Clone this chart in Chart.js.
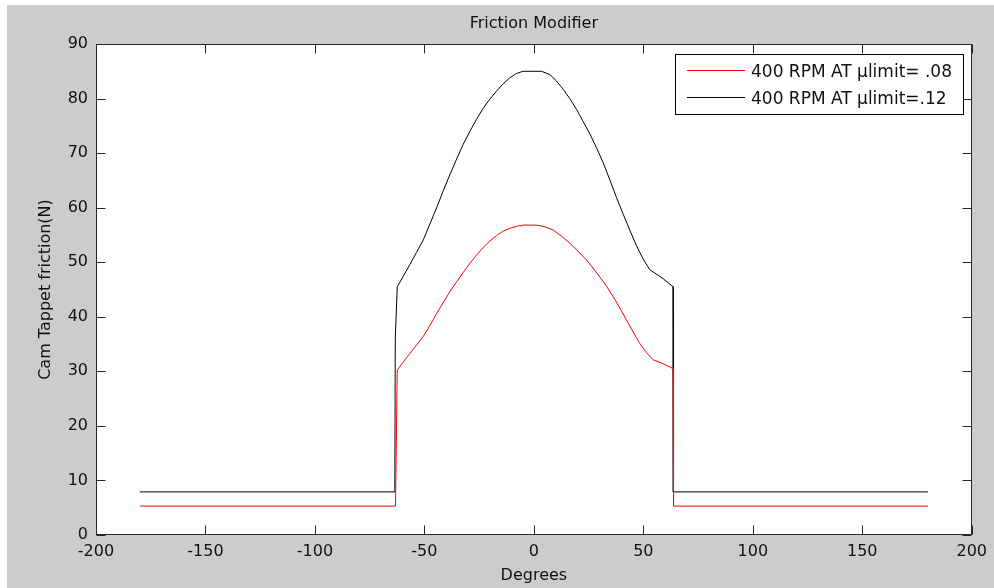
<!DOCTYPE html>
<html>
<head>
<meta charset="utf-8">
<script src="https://cdn.jsdelivr.net/npm/chart.js@4/dist/chart.umd.min.js"></script>
<style>
  html, body { margin: 0; padding: 0; background: #ffffff; }
  #wrap { position: absolute; left: 0; top: 0; width: 994px; height: 588px; }
</style>
</head>
<body>
<div id="wrap"><canvas id="c" width="994" height="588"></canvas></div>
<script>
// ---- data ----
const titleText = 'Friction Modifier';
const xTitle = 'Degrees';
const yTitle = 'Cam Tappet friction(N)';
const seriesNames = ['400 RPM AT \u03bclimit= .08', '400 RPM AT \u03bclimit=.12'];

const degLow = [-180, -63.2, -62.4, -59.7, -56.6, -53.6, -50.5, -47.5, -44.4, -41.4, -38.4, -35.3, -32.3, -29.2, -26.2, -23.2, -20.1, -17.0, -14.0, -11.0, -7.9, -4.9, 1.2, 5.0, 8.8, 12.6, 16.4, 20.2, 24.1, 27.1, 30.1, 33.2, 36.2, 39.3, 42.3, 45.4, 48.4, 51.5, 54.5, 59.0, 63.6, 63.8, 180];
const frictionLow = [5.3, 5.3, 30.2, 31.7, 33.3, 34.8, 36.4, 38.4, 40.6, 42.6, 44.6, 46.4, 48.1, 49.8, 51.3, 52.7, 53.9, 54.9, 55.7, 56.2, 56.6, 56.8, 56.8, 56.5, 55.9, 54.8, 53.5, 52.0, 50.4, 48.9, 47.3, 45.6, 43.7, 41.6, 39.4, 37.2, 35.1, 33.4, 32.1, 31.4, 30.5, 5.3, 5.3];

const degHigh = [-180, -63.5, -63.3, -62.4, -59.7, -56.6, -53.6, -50.5, -47.5, -44.4, -41.4, -38.4, -35.3, -32.3, -29.2, -26.2, -23.2, -20.1, -17.0, -14.0, -11.0, -7.9, -4.9, 3.5, 7.3, 10.4, 13.4, 16.4, 19.5, 22.5, 25.6, 28.6, 31.7, 34.7, 37.7, 40.8, 43.8, 46.9, 49.9, 53.0, 59.0, 63.6, 63.7, 180];
const frictionHigh = [7.9, 7.9, 36.0, 45.5, 47.4, 49.6, 51.8, 54.1, 57.0, 60.0, 63.1, 66.0, 68.9, 71.6, 74.0, 76.2, 78.2, 79.9, 81.4, 82.7, 83.8, 84.6, 85.0, 85.0, 84.4, 83.2, 81.7, 80.0, 78.0, 75.8, 73.5, 71.0, 68.2, 65.1, 61.9, 58.8, 55.9, 53.0, 50.6, 48.6, 47.0, 45.5, 7.9, 7.9];

const xTickValues = [-200, -150, -100, -50, 0, 50, 100, 150, 200];
const yTickValues = [0, 10, 20, 30, 40, 50, 60, 70, 80, 90];
const seriesColors = ['#ff0000', '#000000'];

// ---- build chart ----
const toPoints = (xs, ys) => xs.map((x, i) => ({ x: x, y: ys[i] }));
const FONT = 'DejaVu Sans';
const TXT = '#111111';

const bgPlugin = {
  id: 'bg',
  beforeDraw(chart) {
    const { ctx, chartArea: a } = chart;
    ctx.save();
    ctx.fillStyle = '#ffffff';
    ctx.fillRect(0, 0, chart.width, chart.height);
    ctx.fillStyle = '#cccccc';
    ctx.fillRect(7, 5, chart.width - 7, chart.height - 5);
    ctx.fillStyle = '#ffffff';
    ctx.fillRect(a.left, a.top, a.right - a.left, a.bottom - a.top);
    ctx.restore();
  }
};

const boxPlugin = {
  id: 'box',
  afterDatasetsDraw(chart) {
    const { ctx, chartArea: a, scales } = chart;
    const L = Math.round(a.left) + 0.5, R = Math.round(a.right) - 0.5;
    const T = Math.round(a.top) + 0.5, B = Math.round(a.bottom) - 0.5;
    const tl = 9;
    ctx.save();
    ctx.strokeStyle = '#262626';
    ctx.lineWidth = 1;
    ctx.beginPath();
    xTickValues.forEach(v => {
      const px = Math.round(scales.x.getPixelForValue(v)) + 0.5;
      ctx.moveTo(px, B); ctx.lineTo(px, B - tl);
      ctx.moveTo(px, T); ctx.lineTo(px, T + tl);
    });
    yTickValues.forEach(v => {
      const py = Math.round(scales.y.getPixelForValue(v)) + 0.5;
      ctx.moveTo(L, py); ctx.lineTo(L + tl, py);
      ctx.moveTo(R, py); ctx.lineTo(R - tl, py);
    });
    ctx.stroke();
    ctx.strokeRect(L, T, R - L, B - T);

    // legend box
    const lx = 675.5, ly = 54.5, lw = 288, lh = 60;
    ctx.fillStyle = '#ffffff';
    ctx.fillRect(lx, ly, lw, lh);
    ctx.strokeStyle = '#000000';
    ctx.strokeRect(lx, ly, lw, lh);
    const rows = [70.5, 97.5];
    chart.data.datasets.forEach((ds, i) => {
      ctx.strokeStyle = ds.borderColor;
      ctx.beginPath();
      ctx.moveTo(687, rows[i]); ctx.lineTo(745, rows[i]);
      ctx.stroke();
      ctx.fillStyle = TXT;
      ctx.font = '17px "' + FONT + '"';
      ctx.textAlign = 'left';
      ctx.textBaseline = 'alphabetic';
      ctx.fillText(ds.label, 751, rows[i] + 6.5);
    });
    ctx.restore();
  }
};

new Chart(document.getElementById('c'), {
  type: 'line',
  data: {
    datasets: [
      { label: seriesNames[0], data: toPoints(degLow, frictionLow), borderColor: seriesColors[0], borderWidth: 1, pointRadius: 0, tension: 0, fill: false },
      { label: seriesNames[1], data: toPoints(degHigh, frictionHigh), borderColor: seriesColors[1], borderWidth: 1, pointRadius: 0, tension: 0, fill: false }
    ]
  },
  options: {
    responsive: false,
    animation: false,
    devicePixelRatio: 1,
    events: [],
    layout: { padding: { left: 0, right: 22, top: 0, bottom: 0 } },
    plugins: {
      legend: { display: false },
      tooltip: { enabled: false },
      title: {
        display: true, text: titleText, fullSize: false, color: TXT,
        font: { family: FONT, size: 16, weight: 'normal' },
        padding: { top: 14, bottom: 10.8 }
      }
    },
    scales: {
      x: {
        type: 'linear', min: -200, max: 200,
        afterFit(s) { s.height = 53; },
        afterBuildTicks(s) { s.ticks = xTickValues.map(v => ({ value: v })); },
        ticks: { color: TXT, font: { family: FONT, size: 16 }, padding: 7, maxRotation: 0, autoSkip: false },
        grid: { display: false, drawTicks: false },
        border: { display: false },
        title: { display: true, text: xTitle, color: TXT, font: { family: FONT, size: 16 }, padding: { top: 0, bottom: 3 } }
      },
      y: {
        type: 'linear', min: 0, max: 90,
        afterFit(s) { s.width = 96; },
        afterBuildTicks(s) { s.ticks = yTickValues.map(v => ({ value: v })); },
        ticks: { color: TXT, font: { family: FONT, size: 16 }, padding: 8, autoSkip: false },
        grid: { display: false, drawTicks: false },
        border: { display: false },
        title: { display: true, text: yTitle, color: TXT, font: { family: FONT, size: 16 }, padding: { top: 36, bottom: 0 } }
      }
    }
  },
  plugins: [bgPlugin, boxPlugin]
});
</script>
</body>
</html>
